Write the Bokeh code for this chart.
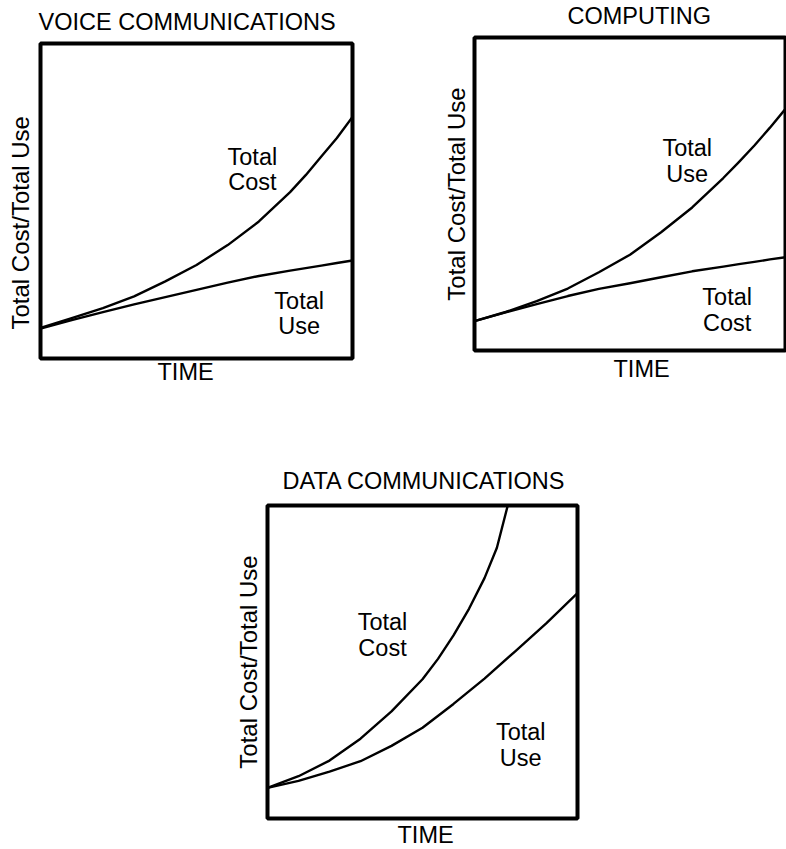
from bokeh.plotting import figure
from bokeh.models import Range1d, Label, Title, Spacer
from bokeh.layouts import column, row
from bokeh.embed import file_html
from bokeh.resources import INLINE

FONT = "Liberation Sans"
FS = "23.5px"
FS_Y = "24px"

# ---- data (fractions of the frame: time 0..1, amount 0..1) ----
time_grid = [0.0, 0.1, 0.2, 0.3, 0.4, 0.5, 0.6, 0.7, 0.8, 0.85, 0.9, 0.95, 1.0]

voice_total_cost = [0.097, 0.128, 0.160, 0.197, 0.245, 0.297, 0.360, 0.435, 0.528, 0.582, 0.641, 0.700, 0.767]
voice_total_use = [0.095, 0.122, 0.147, 0.172, 0.195, 0.218, 0.241, 0.262, 0.279, 0.287, 0.295, 0.303, 0.311]

computing_total_use = [0.094, 0.123, 0.158, 0.198, 0.250, 0.306, 0.378, 0.457, 0.551, 0.602, 0.655, 0.712, 0.772]
computing_total_cost = [0.094, 0.122, 0.148, 0.174, 0.197, 0.215, 0.234, 0.253, 0.268, 0.276, 0.283, 0.291, 0.298]

data_cost_time = [0.0, 0.1, 0.2, 0.3, 0.4, 0.5, 0.55, 0.6, 0.65, 0.7, 0.74, 0.775]
data_total_cost = [0.098, 0.135, 0.185, 0.255, 0.342, 0.445, 0.510, 0.585, 0.670, 0.768, 0.865, 1.0]
data_use_time = [0.0, 0.1, 0.2, 0.3, 0.4, 0.5, 0.6, 0.7, 0.8, 0.9, 1.0]
data_total_use = [0.098, 0.120, 0.150, 0.183, 0.232, 0.290, 0.366, 0.447, 0.535, 0.624, 0.720]

titles = ["VOICE COMMUNICATIONS", "COMPUTING", "DATA COMMUNICATIONS"]
x_label = "TIME"
y_label = "Total Cost/Total Use"


def make_panel(fw, fh, left, right, top, bottom, title, t_off, t_so,
               time_off, time_va, time_so, y_align, y_off, y_va, y_so):
    p = figure(frame_width=fw, frame_height=fh,
               min_border_left=left, min_border_right=right,
               min_border_top=top, min_border_bottom=bottom,
               x_range=Range1d(0, 1), y_range=Range1d(0, 1),
               x_axis_location=None, y_axis_location=None,
               output_backend="svg", toolbar_location=None)
    p.grid.visible = False
    p.outline_line_color = "black"
    p.outline_line_width = 4
    p.background_fill_color = "white"
    p.border_fill_color = "white"
    p.title.text = title
    p.title.text_font = FONT
    p.title.text_font_size = FS
    p.title.text_font_style = "normal"
    p.title.text_color = "black"
    p.title.align = "left"
    p.title.offset = t_off
    p.title.vertical_align = "top"
    p.title.standoff = t_so
    p.add_layout(Title(text=x_label, text_font=FONT, text_font_size=FS,
                       text_font_style="normal", text_color="black",
                       align="left", offset=time_off,
                       vertical_align=time_va, standoff=time_so), "below")
    p.add_layout(Title(text=y_label, text_font=FONT, text_font_size=FS_Y,
                       text_font_style="normal", text_color="black",
                       align=y_align, offset=y_off,
                       vertical_align=y_va, standoff=y_so), "left")
    return p


def lab(p, x, y, txt):
    p.add_layout(Label(x=x, y=y, text=txt, text_font=FONT,
                       text_font_size=FS, text_color="black",
                       text_align="center", text_baseline="middle"))


def curve(p, xs, ys):
    p.line(xs, ys, line_color="black", line_width=2.4, line_join="round")


# ---- panel 1: voice communications ----
p1 = make_panel(312, 315, 40, 48, 43, 98, titles[0], -2, 14,
                117, "top", 0, "left", 29, "top", 10)
curve(p1, time_grid, voice_total_cost)
curve(p1, time_grid, voice_total_use)
lab(p1, 0.679, 0.641, "Total")
lab(p1, 0.679, 0.559, "Cost")
lab(p1, 0.829, 0.182, "Total")
lab(p1, 0.829, 0.103, "Use")

# ---- panel 2: computing (drawn 6px higher than panel 1, as in the original) ----
p2 = make_panel(311, 313, 74, 1, 37, 100, titles[1], 93, 14,
                139, "top", 10, "center", 0, "bottom", 10)
p2.styles = {"transform": "translateY(-6px)"}
curve(p2, time_grid, computing_total_use)
curve(p2, time_grid, computing_total_cost)
lab(p2, 0.684, 0.647, "Total")
lab(p2, 0.684, 0.563, "Use")
lab(p2, 0.8125, 0.171, "Total")
lab(p2, 0.8125, 0.088, "Cost")

# ---- panel 3: data communications ----
p3 = make_panel(310, 313, 50, 30, 49, 0, titles[2], 15, 20,
                130, "bottom", 2, "center", 0, "bottom", 12)
curve(p3, data_cost_time, data_total_cost)
curve(p3, data_use_time, data_total_use)
lab(p3, 0.371, 0.628, "Total")
lab(p3, 0.371, 0.546, "Cost")
lab(p3, 0.817, 0.275, "Total")
lab(p3, 0.817, 0.193, "Use")

layout = column(row(p1, p2), row(Spacer(width=217, height=10), p3))

open("out.html", "w").write(file_html(layout, INLINE))
